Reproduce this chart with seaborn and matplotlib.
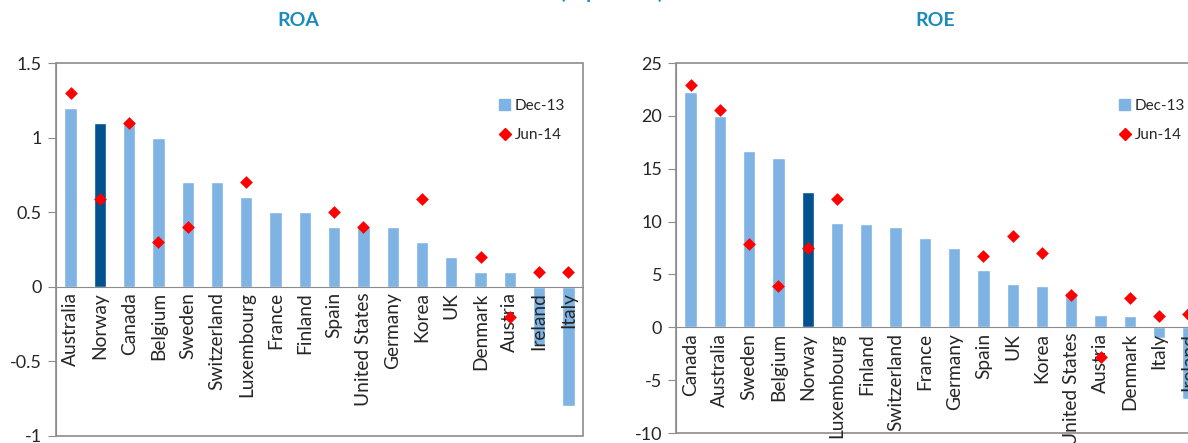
import numpy as np
import pandas as pd
import seaborn as sns
import matplotlib.pyplot as plt
from matplotlib.patches import Rectangle
from matplotlib.lines import Line2D

# ROA data (per cent)
roa_countries = ["Australia", "Norway", "Canada", "Belgium", "Sweden", "Switzerland",
                 "Luxembourg", "France", "Finland", "Spain", "United States", "Germany",
                 "Korea", "UK", "Denmark", "Austria", "Ireland", "Italy"]
roa_dec13 = [1.2, 1.1, 1.1, 1.0, 0.7, 0.7, 0.6, 0.5, 0.5, 0.4, 0.4, 0.4, 0.3, 0.2, 0.1, 0.1, -0.4, -0.8]
roa_jun14 = [1.3, 0.59, 1.1, 0.3, 0.4, np.nan, 0.7, np.nan, np.nan, 0.5, 0.4, np.nan, 0.59, np.nan,
             0.2, -0.2, 0.1, 0.1]

# ROE data (per cent)
roe_countries = ["Canada", "Australia", "Sweden", "Belgium", "Norway", "Luxembourg", "Finland",
                 "Switzerland", "France", "Germany", "Spain", "UK", "Korea", "United States",
                 "Austria", "Denmark", "Italy", "Ireland"]
roe_dec13 = [22.3, 20.0, 16.7, 16.0, 12.8, 9.9, 9.8, 9.5, 8.4, 7.5, 5.4, 4.1, 3.9, 3.3, 1.2, 1.1, -1.0, -6.8]
roe_jun14 = [22.9, 20.6, 7.9, 3.9, 7.5, 12.1, np.nan, np.nan, np.nan, np.nan, 6.7, 8.6, 7.0, 3.1,
             -2.8, 2.8, 1.1, 1.3]

light = "#7EB3E3"
dark = "#02528F"
title_col = "#1A8BBA"
frame_col = "#8C8C8C"

sns.set_style("white")
plt.rcParams["font.family"] = ["Lato", "DejaVu Sans"]

fig = plt.figure(figsize=(11.88, 4.43), dpi=100)
ax1 = fig.add_axes([56 / 1188, 7 / 443, 527 / 1188, 373 / 443])
ax2 = fig.add_axes([676 / 1188, 10 / 443, 527 / 1188, 370 / 443])


def draw_panel(ax, countries, dec13, jun14, ylim, yticks):
    df = pd.DataFrame({"country": countries, "dec13": dec13, "jun14": jun14})
    pal = {c: (dark if c == "Norway" else light) for c in countries}
    sns.barplot(data=df, x="country", y="dec13", hue="country", palette=pal,
                order=countries, width=0.42, legend=False, ax=ax, saturation=1)
    sns.stripplot(data=df, x="country", y="jun14", order=countries, jitter=False,
                  marker="D", color="#FF0000", size=6.5, linewidth=0, ax=ax, zorder=5)
    ax.set_xlim(-0.5, len(countries) - 0.5)
    ax.set_ylim(*ylim)
    ax.set_yticks(yticks)
    ax.set_yticklabels([f"{t:g}" for t in yticks], fontsize=13)
    ax.set_xlabel("")
    ax.set_ylabel("")
    ax.set_axisbelow(False)  # category labels drawn over the bars, like the original

    # category axis sits on the zero line
    for s in ["top", "right"]:
        ax.spines[s].set_visible(False)
    ax.spines["bottom"].set_position(("data", 0))
    ax.spines["bottom"].set_color(frame_col)
    ax.spines["left"].set_color(frame_col)
    ax.add_patch(Rectangle((0, 0), 1, 1, transform=ax.transAxes, fill=False,
                           edgecolor=frame_col, lw=1.2, clip_on=False))
    ax.set_xticks(range(len(countries)))
    ax.set_xticklabels(countries, rotation=90, fontsize=13.8, va="top")
    ax.set_xticks(np.arange(0.5, len(countries) - 0.5), minor=True)
    ax.tick_params(axis="x", which="major", length=0, pad=4)
    ax.tick_params(axis="x", which="minor", length=5, color=frame_col, direction="out")
    ax.tick_params(axis="y", length=6, color=frame_col, direction="out", left=True, pad=4)

    handles = [Rectangle((0, 0), 1, 1, color=light),
               Line2D([], [], marker="D", color="#FF0000", lw=0, markersize=6.5)]
    ax.legend(handles, ["Dec-13", "Jun-14"], frameon=False, fontsize=11,
              loc="upper left", bbox_to_anchor=(0.815, 0.94), handlelength=0.7,
              handletextpad=0.3, labelspacing=1.0)


draw_panel(ax1, roa_countries, roa_dec13, roa_jun14, (-1, 1.5), [-1, -0.5, 0, 0.5, 1, 1.5])
draw_panel(ax2, roe_countries, roe_dec13, roe_jun14, (-10, 25), [-10, -5, 0, 5, 10, 15, 20, 25])

fig.text(298 / 1188, 1 - 20 / 443, "ROA", ha="center", va="center",
         fontsize=14, fontweight="bold", color=title_col)
fig.text(935 / 1188, 1 - 20 / 443, "ROE", ha="center", va="center",
         fontsize=14, fontweight="bold", color=title_col)
fig.text(0.515, 1.0 + 1 / 443, "(in per cent)", ha="center", va="baseline",
         fontsize=14, fontweight="bold", color=title_col)

fig.savefig("out.png", dpi=100)
